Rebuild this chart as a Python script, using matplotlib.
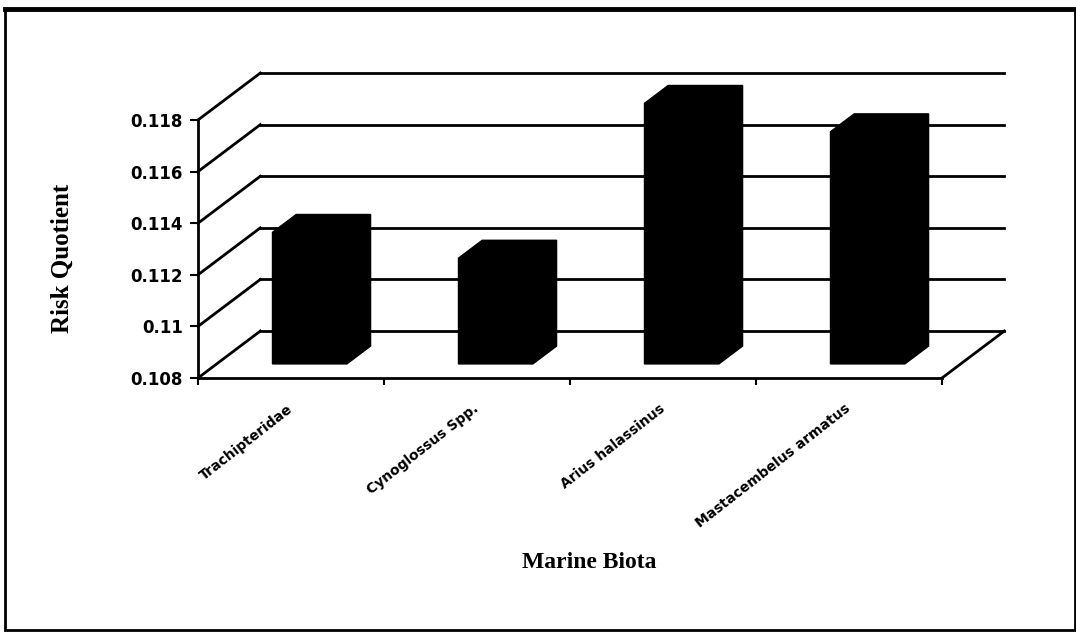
import matplotlib
matplotlib.use("Agg")
import matplotlib.pyplot as plt
from matplotlib.patches import Polygon, Rectangle
from matplotlib.lines import Line2D

# ---- data ----
categories = ["Trachipteridae", "Cynoglossus Spp.", "Arius halassinus", "Mastacembelus armatus"]
risk_quotient = [0.1131, 0.1121, 0.1181, 0.1170]
y_ticks = [0.108, 0.110, 0.112, 0.114, 0.116, 0.118]
y_tick_labels = ["0.108", "0.11", "0.112", "0.114", "0.116", "0.118"]
x_title = "Marine Biota"
y_title = "Risk Quotient"

# ---- figure / front plane of the 3-D box ----
W, H = 1076, 632
fig = plt.figure(figsize=(W / 100, H / 100), dpi=100)
fig.patch.set_facecolor("white")
ax = fig.add_axes([198 / W, 1 - 378 / H, (942 - 198) / W, (378 - 120) / H])
n = len(categories)
ymin, ymax = y_ticks[0], y_ticks[-1]
ax.set_xlim(0, n)
ax.set_ylim(ymin, ymax)
ax.set_facecolor("none")

# depth of the box, expressed in data units (categories, value)
DX = 0.335
DY = 0.00182
LW = 2.0

# back wall gridlines and left wall diagonals
for v in y_ticks:
    ax.add_line(Line2D([DX, n + DX], [v + DY, v + DY], color="black", lw=LW,
                       clip_on=False, zorder=1))
    ax.add_line(Line2D([0, DX], [v, v + DY], color="black", lw=LW,
                       clip_on=False, zorder=1))
# right edge of the floor
ax.add_line(Line2D([n, n + DX], [ymin, ymin + DY], color="black", lw=LW,
                   clip_on=False, zorder=1))

# 3-D columns: front face + top + right side, all solid black
d0, d1 = 0.30, 0.68          # column front/back depth as fraction of box depth
bw = 0.40                    # column width in category units
for i, v in enumerate(risk_quotient):
    x0 = i + (1 - bw) / 2 + d0 * DX
    x1 = x0 + bw
    yb = ymin + d0 * DY
    yt = v + d0 * DY
    ddx = (d1 - d0) * DX
    ddy = (d1 - d0) * DY
    verts = [(x0, yb), (x0, yt), (x0 + ddx, yt + ddy), (x1 + ddx, yt + ddy),
             (x1 + ddx, yb + ddy), (x1, yb)]
    ax.add_patch(Polygon(verts, closed=True, facecolor="black",
                         edgecolor="black", lw=1, clip_on=False, zorder=3))

# ---- axes, ticks, labels ----
for side in ("top", "right"):
    ax.spines[side].set_visible(False)
for side in ("left", "bottom"):
    ax.spines[side].set_linewidth(LW)
    ax.spines[side].set_zorder(2)

ax.set_yticks(y_ticks, y_tick_labels)
ax.tick_params(axis="y", direction="out", length=6, width=1.5, pad=5,
               labelsize=12)
for lbl in ax.get_yticklabels():
    lbl.set_fontfamily("DejaVu Sans")
    lbl.set_fontweight("bold")

ax.set_xticks(range(n + 1), [""] * (n + 1))
ax.tick_params(axis="x", which="major", direction="out", length=5, width=1.5)
ax.set_xticks([i + 0.5 for i in range(n)], categories, minor=True)
ax.tick_params(axis="x", which="minor", length=0, pad=21, labelsize=10)
for lbl in ax.get_xticklabels(minor=True):
    lbl.set_rotation(38)
    lbl.set_ha("right")
    lbl.set_va("center")
    lbl.set_rotation_mode("anchor")
    lbl.set_fontfamily("DejaVu Sans")
    lbl.set_fontweight("bold")

fig.text(62 / W, 1 - 258 / H, y_title, rotation=90, ha="center", va="center",
         fontfamily="Liberation Serif", fontweight="bold", fontsize=18)
fig.text(589 / W, 1 - 562 / H, x_title, ha="center", va="center",
         fontfamily="Liberation Serif", fontweight="bold", fontsize=17)

# chart frame
fig.add_artist(Rectangle((5 / W, 2 / H), 1070 / W, 621 / H,
                         transform=fig.transFigure, fill=False,
                         edgecolor="black", lw=2))
fig.add_artist(Line2D([5 / W, 1075 / W], [1 - 9 / H, 1 - 9 / H],
                      transform=fig.transFigure, color="black", lw=3.5))

fig.savefig("out.png", dpi=100, facecolor="white")
